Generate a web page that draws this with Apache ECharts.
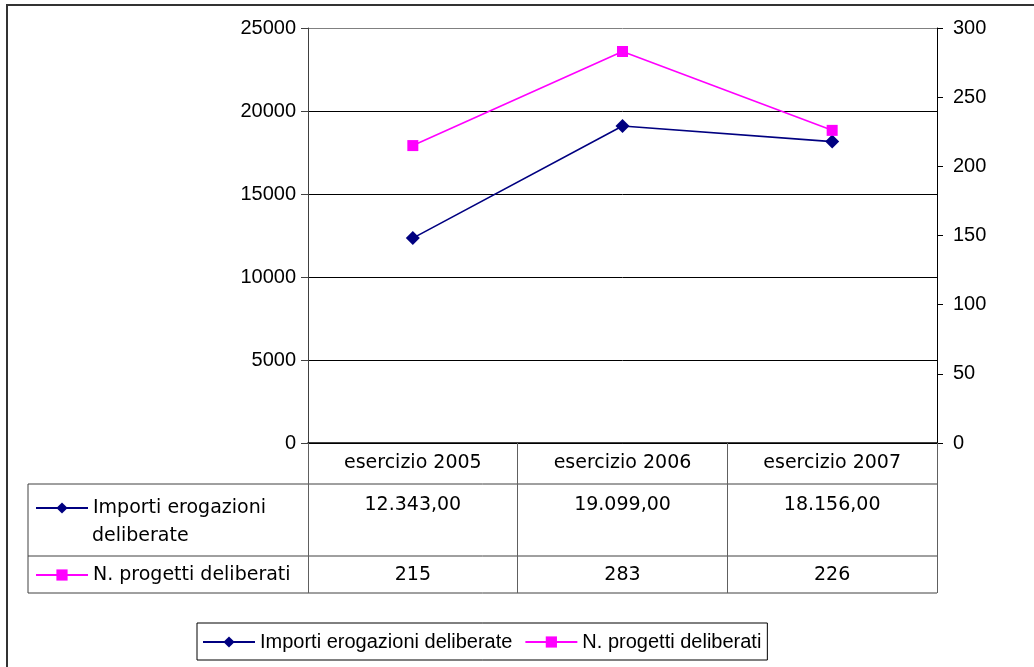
<!DOCTYPE html>
<html>
<head>
<meta charset="utf-8">
<script src="https://cdn.jsdelivr.net/npm/echarts@6/dist/echarts.min.js"></script>
<style>
  html, body { margin: 0; padding: 0; background: #fff; }
  #chart { width: 1034px; height: 667px; }
</style>
</head>
<body>
<div id="chart"></div>
<script>
var categories = ["esercizio 2005", "esercizio 2006", "esercizio 2007"];
var importi = [12343, 19099, 18156];
var progetti = [215, 283, 226];
var seriesNames = ["Importi erogazioni deliberate", "N. progetti deliberati"];
var rowLabels = [["Importi erogazioni", "deliberate"], ["N. progetti deliberati"]];

// formato italiano 12.343,00
function fmtIt(v) {
  var s = Math.round(v).toString().replace(/\B(?=(\d{3})+(?!\d))/g, ".");
  return s + ",00";
}

var font = "Liberation Sans";
var tableFont = "DejaVu Sans";
var L = 308, R = 937, T = 28, B = 443;   // area del grafico
var tableLeft = 28, row1 = 484, row2 = 556, row3 = 593;

var myChart = echarts.init(document.getElementById("chart"));

myChart.setOption({
  animation: false,
  textStyle: { fontFamily: font, color: "#000" },
  grid: { left: L, right: 1034 - R, top: T, bottom: 667 - B },
  legend: [
    {
      data: seriesNames,
      left: 197, top: 623,
      padding: [8, 6, 7, 5],
      borderColor: "#000", borderWidth: 1,
      itemWidth: 52, itemHeight: 14, itemGap: 12,
      textStyle: { fontSize: 20, fontFamily: font, color: "#000", lineHeight: 22 }
    },
    {
      data: [seriesNames[0]],
      left: 35, top: 497,
      padding: 0,
      itemWidth: 52, itemHeight: 14,
      formatter: function () { return rowLabels[0][0]; },
      textStyle: { fontSize: 19, fontFamily: tableFont, color: "#000", lineHeight: 22 }
    },
    {
      data: [seriesNames[1]],
      left: 35, top: 564,
      padding: 0,
      itemWidth: 52, itemHeight: 14,
      formatter: function () { return rowLabels[1][0]; },
      textStyle: { fontSize: 19, fontFamily: tableFont, color: "#000", lineHeight: 22 }
    }
  ],
  xAxis: [
    {
      type: "category",
      data: categories,
      boundaryGap: true,
      axisLine: { lineStyle: { color: "#000", width: 1.5 } },
      axisTick: { show: true, length: row3 - B, lineStyle: { color: "#606060" } },
      axisLabel: { fontSize: 19, color: "#000", margin: 11, fontFamily: tableFont }
    },
    {
      type: "category",
      data: importi.map(fmtIt),
      position: "bottom",
      offset: row1 - B,
      axisLine: { show: false },
      axisTick: { show: false },
      axisLabel: { fontSize: 19, color: "#000", margin: 12, fontFamily: tableFont }
    },
    {
      type: "category",
      data: progetti.map(String),
      position: "bottom",
      offset: row2 - B,
      axisLine: { show: false },
      axisTick: { show: false },
      axisLabel: { fontSize: 19, color: "#000", margin: 10, fontFamily: tableFont }
    }
  ],
  yAxis: [
    {
      type: "value",
      min: 0, max: 25000, interval: 5000,
      axisLine: { show: true, lineStyle: { color: "#404040" } },
      axisTick: { show: true, length: 7, lineStyle: { color: "#404040" } },
      axisLabel: { fontSize: 20, color: "#000", margin: 12, fontFamily: font, formatter: function (v) { return String(v); } },
      splitLine: { lineStyle: { color: ["#000", "#000", "#000", "#000", "#000", "#808080"], width: 1 } }
    },
    {
      type: "value",
      position: "right",
      min: 0, max: 300, interval: 50,
      axisLine: { show: true, lineStyle: { color: "#000" } },
      axisTick: { show: true, length: 6, lineStyle: { color: "#000" } },
      axisLabel: { fontSize: 20, color: "#000", margin: 16, fontFamily: font },
      splitLine: { show: false }
    }
  ],
  series: [
    {
      name: seriesNames[0],
      type: "line",
      data: importi,
      yAxisIndex: 0,
      symbol: "diamond",
      symbolSize: 14,
      color: "#000080",
      lineStyle: { color: "#000080", width: 1.6 },
      itemStyle: { color: "#000080" }
    },
    {
      name: seriesNames[1],
      type: "line",
      data: progetti,
      yAxisIndex: 1,
      symbol: "rect",
      symbolSize: 11,
      color: "#FF00FF",
      lineStyle: { color: "#FF00FF", width: 1.6 },
      itemStyle: { color: "#FF00FF" }
    }
  ],
  graphic: [
    // cornice esterna (solo bordo superiore e sinistro visibili)
    { type: "line", shape: { x1: 6, y1: 5, x2: 1034, y2: 5 }, style: { stroke: "#333", lineWidth: 2 } },
    { type: "line", shape: { x1: 7, y1: 5, x2: 7, y2: 667 }, style: { stroke: "#333", lineWidth: 2 } },
    // tabella dati
    { type: "line", shape: { x1: tableLeft, y1: row1, x2: R, y2: row1 }, style: { stroke: "#404040", lineWidth: 1 } },
    { type: "line", shape: { x1: tableLeft, y1: row2, x2: R, y2: row2 }, style: { stroke: "#404040", lineWidth: 1 } },
    { type: "line", shape: { x1: tableLeft, y1: row3, x2: R, y2: row3 }, style: { stroke: "#404040", lineWidth: 1 } },
    { type: "line", shape: { x1: tableLeft, y1: row1, x2: tableLeft, y2: row3 }, style: { stroke: "#404040", lineWidth: 1 } },
    {
      type: "text", x: 92, y: 536,
      style: { text: rowLabels[0][1], font: "19px 'DejaVu Sans'", fill: "#000", verticalAlign: "middle" }
    }
  ]
});
</script>
</body>
</html>
